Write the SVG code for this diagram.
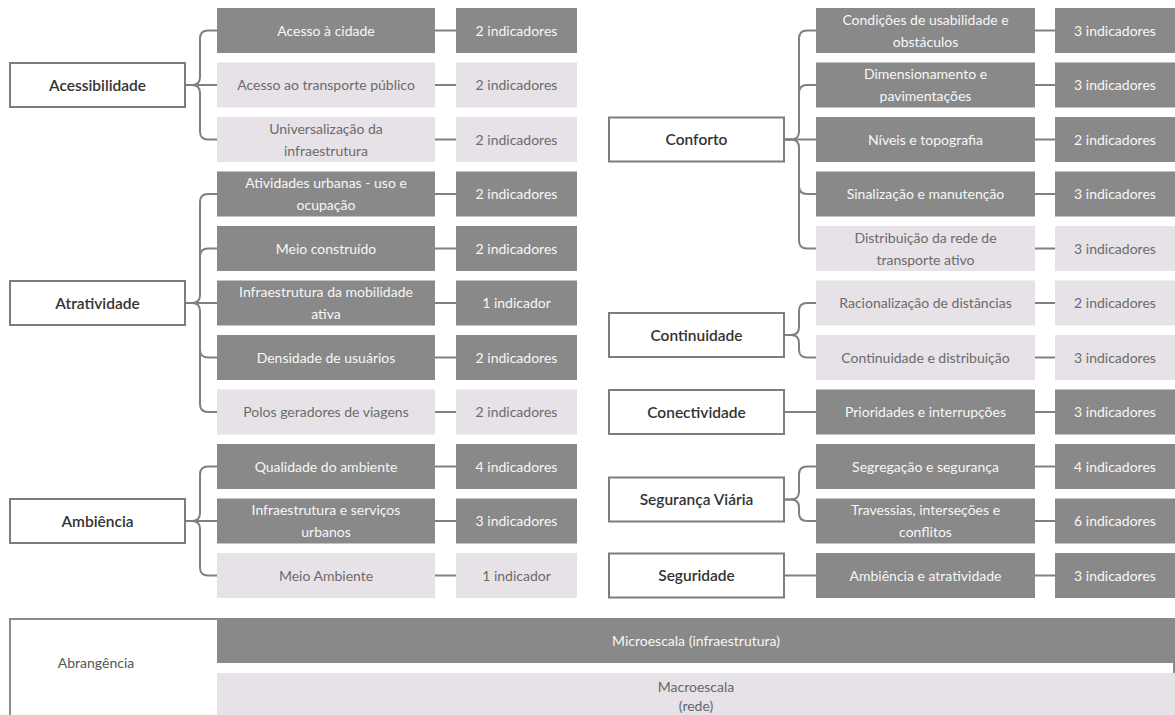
<svg xmlns="http://www.w3.org/2000/svg" width="1175" height="715" viewBox="0 0 1175 715">
<style>
text{font-family:Lato,"Open Sans","Liberation Sans",sans-serif;text-anchor:middle}
.p rect{fill:#fff;stroke:#7d7d7d;stroke-width:2}
.p text{font-size:15.5px;font-weight:600;fill:#333}
.d{fill:#898989}
.l{fill:#e7e2e7}
.td{font-size:14px;fill:#f7f7f7}
.tl{font-size:14px;fill:#6b6b6b}
.c path{fill:none;stroke:#808080;stroke-width:2}
</style>
<rect width="1175" height="715" fill="#fff"/>
<g class="c" id="connectors">
<!-- Acessibilidade -->
<path d="M185,85 H192 Q200,85 200,77 V38.5 Q200,30.5 208,30.5 H217"/>
<path d="M185,85 H217"/>
<path d="M185,85 H192 Q200,85 200,93 V131.5 Q200,139.5 208,139.5 H217"/>
<!-- Atratividade -->
<path d="M185,303 H192 Q200,303 200,295 V202 Q200,194 208,194 H217"/>
<path d="M200,256.5 Q200,248.5 208,248.5 H217"/>
<path d="M185,303 H217"/>
<path d="M185,303 H192 Q200,303 200,311 V404 Q200,412 208,412 H217"/>
<path d="M200,349.5 Q200,357.5 208,357.5 H217"/>
<!-- Ambiencia -->
<path d="M185,521 H192 Q200,521 200,513 V474.5 Q200,466.5 208,466.5 H217"/>
<path d="M185,521 H217"/>
<path d="M185,521 H192 Q200,521 200,529 V567.5 Q200,575.5 208,575.5 H217"/>
<!-- Conforto -->
<path d="M784,139.5 H791 Q799,139.5 799,131.5 V38.5 Q799,30.5 807,30.5 H816"/>
<path d="M799,93 Q799,85 807,85 H816"/>
<path d="M784,139.5 H816"/>
<path d="M784,139.5 H791 Q799,139.5 799,147.5 V240.5 Q799,248.5 807,248.5 H816"/>
<path d="M799,186 Q799,194 807,194 H816"/>
<!-- Continuidade -->
<path d="M784,335 H791 Q799,335 799,327 V311 Q799,303 807,303 H816"/>
<path d="M784,335 H791 Q799,335 799,343 V349.5 Q799,357.5 807,357.5 H816"/>
<!-- Conectividade -->
<path d="M784,412 H816"/>
<!-- Seguranca Viaria -->
<path d="M784,499.5 H791 Q799,499.5 799,491.5 V474.5 Q799,466.5 807,466.5 H816"/>
<path d="M784,499.5 H791 Q799,499.5 799,507.5 V513 Q799,521 807,521 H816"/>
<!-- Seguridade -->
<path d="M784,575.5 H816"/>
<!-- child to indicator, left -->
<path d="M435,30.5 H456 M435,85 H456 M435,139.5 H456 M435,194 H456 M435,248.5 H456 M435,303 H456 M435,357.5 H456 M435,412 H456 M435,466.5 H456 M435,521 H456 M435,575.5 H456"/>
<!-- child to indicator, right -->
<path d="M1035,30.5 H1055 M1035,85 H1055 M1035,139.5 H1055 M1035,194 H1055 M1035,248.5 H1055 M1035,303 H1055 M1035,357.5 H1055 M1035,412 H1055 M1035,466.5 H1055 M1035,521 H1055 M1035,575.5 H1055"/>
</g>

<!-- Parents -->
<g class="p" id="acessibilidade"><rect x="10" y="63" width="175" height="44"/><text x="97.5" y="90.5">Acessibilidade</text></g>
<g class="p" id="atratividade"><rect x="10" y="281" width="175" height="44"/><text x="97.5" y="308.5">Atratividade</text></g>
<g class="p" id="ambiencia"><rect x="10" y="499" width="175" height="44"/><text x="97.5" y="526.5">Ambiência</text></g>
<g class="p" id="conforto"><rect x="609" y="117.5" width="175" height="44"/><text x="696.5" y="145">Conforto</text></g>
<g class="p" id="continuidade"><rect x="609" y="313" width="175" height="44"/><text x="696.5" y="340.5">Continuidade</text></g>
<g class="p" id="conectividade"><rect x="609" y="390" width="175" height="44"/><text x="696.5" y="417.5">Conectividade</text></g>
<g class="p" id="seguranca-viaria"><rect x="609" y="477.5" width="175" height="44"/><text x="696.5" y="505">Segurança Viária</text></g>
<g class="p" id="seguridade"><rect x="609" y="553.5" width="175" height="44"/><text x="696.5" y="581">Seguridade</text></g>

<!-- Left children -->
<g id="acesso-cidade"><rect class="d" x="217" y="8" width="218" height="45"/><text class="td" x="326" y="35.5">Acesso à cidade</text></g>
<g id="acesso-transporte"><rect class="l" x="217" y="62.5" width="218" height="45"/><text class="tl" x="326" y="90">Acesso ao transporte público</text></g>
<g id="universalizacao"><rect class="l" x="217" y="117" width="218" height="45"/><text class="tl" x="326" y="133.5">Universalização da</text><text class="tl" x="326" y="155.5">infraestrutura</text></g>
<g id="atividades-urbanas"><rect class="d" x="217" y="171.5" width="218" height="45"/><text class="td" x="326" y="188">Atividades urbanas - uso e</text><text class="td" x="326" y="210">ocupação</text></g>
<g id="meio-construido"><rect class="d" x="217" y="226" width="218" height="45"/><text class="td" x="326" y="253.5">Meio construído</text></g>
<g id="infra-mobilidade"><rect class="d" x="217" y="280.5" width="218" height="45"/><text class="td" x="326" y="297">Infraestrutura da mobilidade</text><text class="td" x="326" y="319">ativa</text></g>
<g id="densidade"><rect class="d" x="217" y="335" width="218" height="45"/><text class="td" x="326" y="362.5">Densidade de usuários</text></g>
<g id="polos"><rect class="l" x="217" y="389.5" width="218" height="45"/><text class="tl" x="326" y="417">Polos geradores de viagens</text></g>
<g id="qualidade-ambiente"><rect class="d" x="217" y="444" width="218" height="45"/><text class="td" x="326" y="471.5">Qualidade do ambiente</text></g>
<g id="infra-servicos"><rect class="d" x="217" y="498.5" width="218" height="45"/><text class="td" x="326" y="515">Infraestrutura e serviços</text><text class="td" x="326" y="537">urbanos</text></g>
<g id="meio-ambiente"><rect class="l" x="217" y="553" width="218" height="45"/><text class="tl" x="326" y="580.5">Meio Ambiente</text></g>

<!-- Left indicators -->
<g id="ind-l0"><rect class="d" x="456" y="8" width="121" height="45"/><text class="td" x="516.5" y="35.5">2 indicadores</text></g>
<g id="ind-l1"><rect class="l" x="456" y="62.5" width="121" height="45"/><text class="tl" x="516.5" y="90">2 indicadores</text></g>
<g id="ind-l2"><rect class="l" x="456" y="117" width="121" height="45"/><text class="tl" x="516.5" y="144.5">2 indicadores</text></g>
<g id="ind-l3"><rect class="d" x="456" y="171.5" width="121" height="45"/><text class="td" x="516.5" y="199">2 indicadores</text></g>
<g id="ind-l4"><rect class="d" x="456" y="226" width="121" height="45"/><text class="td" x="516.5" y="253.5">2 indicadores</text></g>
<g id="ind-l5"><rect class="d" x="456" y="280.5" width="121" height="45"/><text class="td" x="516.5" y="308">1 indicador</text></g>
<g id="ind-l6"><rect class="d" x="456" y="335" width="121" height="45"/><text class="td" x="516.5" y="362.5">2 indicadores</text></g>
<g id="ind-l7"><rect class="l" x="456" y="389.5" width="121" height="45"/><text class="tl" x="516.5" y="417">2 indicadores</text></g>
<g id="ind-l8"><rect class="d" x="456" y="444" width="121" height="45"/><text class="td" x="516.5" y="471.5">4 indicadores</text></g>
<g id="ind-l9"><rect class="d" x="456" y="498.5" width="121" height="45"/><text class="td" x="516.5" y="526">3 indicadores</text></g>
<g id="ind-l10"><rect class="l" x="456" y="553" width="121" height="45"/><text class="tl" x="516.5" y="580.5">1 indicador</text></g>

<!-- Right children -->
<g id="condicoes"><rect class="d" x="816" y="8" width="219" height="45"/><text class="td" x="925.5" y="24.5">Condições de usabilidade e</text><text class="td" x="925.5" y="46.5">obstáculos</text></g>
<g id="dimensionamento"><rect class="d" x="816" y="62.5" width="219" height="45"/><text class="td" x="925.5" y="79">Dimensionamento e</text><text class="td" x="925.5" y="101">pavimentações</text></g>
<g id="niveis"><rect class="d" x="816" y="117" width="219" height="45"/><text class="td" x="925.5" y="144.5">Níveis e topografia</text></g>
<g id="sinalizacao"><rect class="d" x="816" y="171.5" width="219" height="45"/><text class="td" x="925.5" y="199">Sinalização e manutenção</text></g>
<g id="distribuicao"><rect class="l" x="816" y="226" width="219" height="45"/><text class="tl" x="925.5" y="242.5">Distribuição da rede de</text><text class="tl" x="925.5" y="264.5">transporte ativo</text></g>
<g id="racionalizacao"><rect class="l" x="816" y="280.5" width="219" height="45"/><text class="tl" x="925.5" y="308">Racionalização de distâncias</text></g>
<g id="continuidade-distribuicao"><rect class="l" x="816" y="335" width="219" height="45"/><text class="tl" x="925.5" y="362.5">Continuidade e distribuição</text></g>
<g id="prioridades"><rect class="d" x="816" y="389.5" width="219" height="45"/><text class="td" x="925.5" y="417">Prioridades e interrupções</text></g>
<g id="segregacao"><rect class="d" x="816" y="444" width="219" height="45"/><text class="td" x="925.5" y="471.5">Segregação e segurança</text></g>
<g id="travessias"><rect class="d" x="816" y="498.5" width="219" height="45"/><text class="td" x="925.5" y="515">Travessias, interseções e</text><text class="td" x="925.5" y="537">conflitos</text></g>
<g id="ambiencia-atratividade"><rect class="d" x="816" y="553" width="219" height="45"/><text class="td" x="925.5" y="580.5">Ambiência e atratividade</text></g>

<!-- Right indicators -->
<g id="ind-r0"><rect class="d" x="1055" y="8" width="121" height="45"/><text class="td" x="1115" y="35.5">3 indicadores</text></g>
<g id="ind-r1"><rect class="d" x="1055" y="62.5" width="121" height="45"/><text class="td" x="1115" y="90">3 indicadores</text></g>
<g id="ind-r2"><rect class="d" x="1055" y="117" width="121" height="45"/><text class="td" x="1115" y="144.5">2 indicadores</text></g>
<g id="ind-r3"><rect class="d" x="1055" y="171.5" width="121" height="45"/><text class="td" x="1115" y="199">3 indicadores</text></g>
<g id="ind-r4"><rect class="l" x="1055" y="226" width="121" height="45"/><text class="tl" x="1115" y="253.5">3 indicadores</text></g>
<g id="ind-r5"><rect class="l" x="1055" y="280.5" width="121" height="45"/><text class="tl" x="1115" y="308">2 indicadores</text></g>
<g id="ind-r6"><rect class="l" x="1055" y="335" width="121" height="45"/><text class="tl" x="1115" y="362.5">3 indicadores</text></g>
<g id="ind-r7"><rect class="d" x="1055" y="389.5" width="121" height="45"/><text class="td" x="1115" y="417">3 indicadores</text></g>
<g id="ind-r8"><rect class="d" x="1055" y="444" width="121" height="45"/><text class="td" x="1115" y="471.5">4 indicadores</text></g>
<g id="ind-r9"><rect class="d" x="1055" y="498.5" width="121" height="45"/><text class="td" x="1115" y="526">6 indicadores</text></g>
<g id="ind-r10"><rect class="d" x="1055" y="553" width="121" height="45"/><text class="td" x="1115" y="580.5">3 indicadores</text></g>

<!-- Bottom legend -->
<g id="abrangencia">
<rect x="10" y="619" width="1164" height="110" fill="#fff" stroke="#8a8a8a" stroke-width="2"/>
<text x="96" y="668" style="font-size:14px;fill:#555">Abrangência</text>
</g>
<g id="microescala"><rect class="d" x="217" y="619" width="958" height="44"/><text x="696" y="646" style="font-size:14px;fill:#f7f7f7">Microescala (infraestrutura)</text></g>
<g id="macroescala"><rect class="l" x="217" y="673" width="958" height="50"/><text x="696" y="692" style="font-size:14px;fill:#666">Macroescala</text><text x="696" y="711" style="font-size:14px;fill:#666">(rede)</text></g>
</svg>
